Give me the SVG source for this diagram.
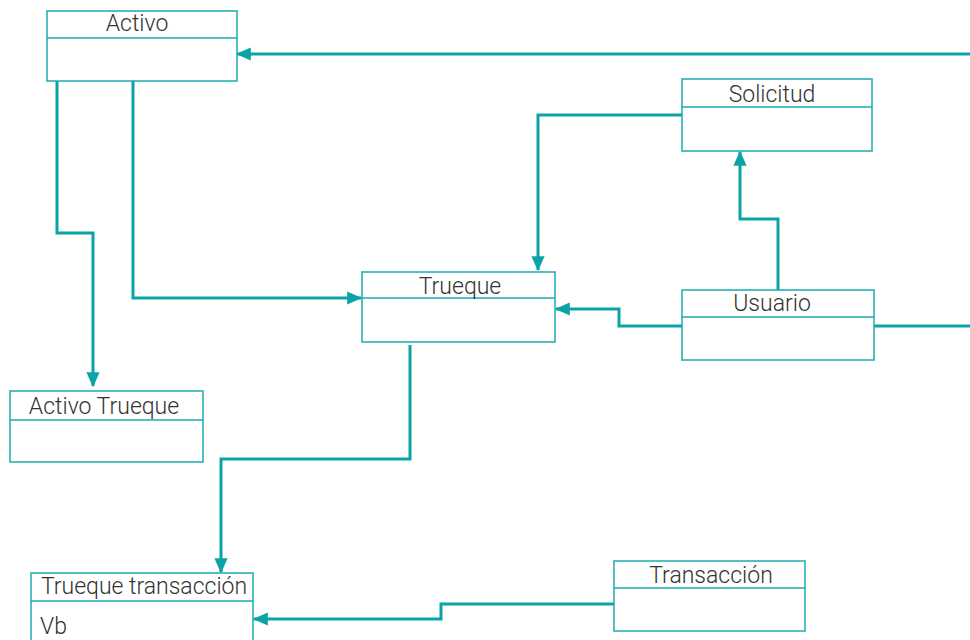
<svg xmlns="http://www.w3.org/2000/svg" width="970" height="640" viewBox="0 0 970 640">
<style>
.box{fill:#fff;stroke:#1aabb0;stroke-width:1.5}
.div{stroke:#1aabb0;stroke-width:1.5}
.t{font-family:Roboto,"Liberation Sans",sans-serif;font-weight:300;font-size:23px;fill:#333;text-anchor:middle}
.a{font-family:Roboto,"Liberation Sans",sans-serif;font-weight:300;font-size:23px;fill:#333}
.c{fill:none;stroke:#0aa3a6;stroke-width:3;marker-end:url(#ah)}
.n{fill:none;stroke:#0aa3a6;stroke-width:3}
</style>
<defs>
<marker id="ah" markerWidth="5" markerHeight="5" refX="4.6" refY="2.2" orient="auto" markerUnits="strokeWidth" viewBox="0 0 5 4.4">
<path d="M0,0 L5,2.2 L0,4.4 Z" fill="#0aa3a6"/>
</marker>
</defs>
<rect width="970" height="640" fill="#fff"/>
<g id="connectors">
<path class="c" d="M970,54 H237"/>
<path class="c" d="M57,81 V233 H93 V386"/>
<path class="c" d="M133,81 V298 H361"/>
<path class="c" d="M682,115 H538 V270"/>
<path class="c" d="M778,290 V219 H740 V152"/>
<path class="c" d="M682,326 H619 V309 H556"/>
<path class="n" d="M874,326 H970"/>
<path class="c" d="M410,345 V459 H221 V572"/>
<path class="c" d="M614,604 H441 V619 H254"/>
</g>
<g id="activo">
<rect class="box" x="47" y="11" width="190" height="70"/>
<line class="div" x1="47" y1="38" x2="237" y2="38"/>
<text class="t" x="137" y="31">Activo</text>
</g>
<g id="solicitud">
<rect class="box" x="682" y="79" width="190" height="72"/>
<line class="div" x1="682" y1="107" x2="872" y2="107"/>
<text class="t" x="772" y="102">Solicitud</text>
</g>
<g id="trueque">
<rect class="box" x="362" y="272" width="193" height="70"/>
<line class="div" x1="362" y1="298" x2="555" y2="298"/>
<text class="t" x="460" y="294">Trueque</text>
</g>
<g id="usuario">
<rect class="box" x="682" y="290" width="192" height="70"/>
<line class="div" x1="682" y1="317" x2="874" y2="317"/>
<text class="t" x="772" y="311">Usuario</text>
</g>
<g id="activo-trueque">
<rect class="box" x="10" y="391" width="193" height="71"/>
<line class="div" x1="10" y1="420" x2="203" y2="420"/>
<text class="t" x="104" y="414">Activo Trueque</text>
</g>
<g id="trueque-transaccion">
<rect class="box" x="31" y="573" width="222" height="80"/>
<line class="div" x1="31" y1="601" x2="253" y2="601"/>
<text class="t" x="144" y="594">Trueque transacción</text>
<text class="a" x="40" y="634">Vb</text>
</g>
<g id="transaccion">
<rect class="box" x="614" y="561" width="191" height="70"/>
<line class="div" x1="614" y1="588" x2="805" y2="588"/>
<text class="t" x="711" y="583">Transacción</text>
</g>
</svg>
